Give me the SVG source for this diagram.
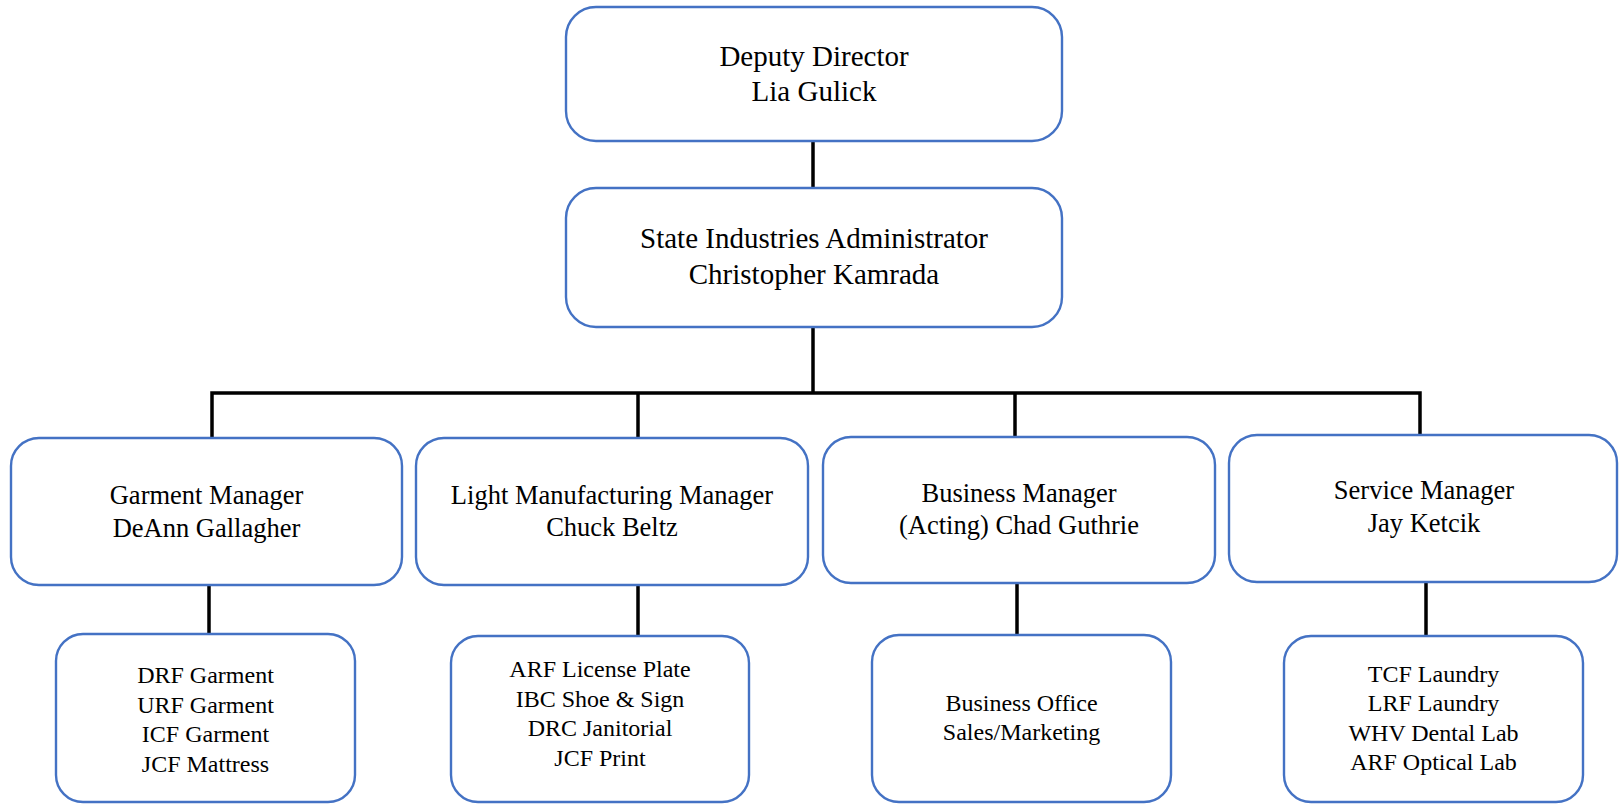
<svg xmlns="http://www.w3.org/2000/svg" width="1619" height="804" viewBox="0 0 1619 804">
<style>
.box{fill:#fff;stroke:#4472C4;stroke-width:2.4}
text{font-family:'Liberation Serif','Times New Roman','DejaVu Serif',serif;fill:#000;text-anchor:middle}
.t1{font-size:29px}
.t2{font-size:26.5px}
.t3{font-size:24px}
.c{stroke:#000;stroke-width:3.5;fill:none}
</style>
<rect width="1619" height="804" fill="#fff"/>
<g id="connectors">
<line class="c" x1="813" y1="141" x2="813" y2="188"/>
<line class="c" x1="813" y1="327" x2="813" y2="393"/>
<polyline class="c" points="212,438 212,393 1420,393 1420,435"/>
<line class="c" x1="638" y1="393" x2="638" y2="438"/>
<line class="c" x1="1015" y1="393" x2="1015" y2="437"/>
<line class="c" x1="209" y1="585" x2="209" y2="634"/>
<line class="c" x1="638" y1="585" x2="638" y2="636"/>
<line class="c" x1="1017" y1="583" x2="1017" y2="635"/>
<line class="c" x1="1426" y1="582" x2="1426" y2="636"/>
</g>
<g id="deputy">
<rect class="box" x="566" y="7" width="496" height="134" rx="30"/>
<text class="t1" x="814" y="66" font-family="Liberation Serif, serif">Deputy Director</text>
<text class="t1" x="814" y="101" font-family="Liberation Serif, serif">Lia Gulick</text>
</g>
<g id="admin">
<rect class="box" x="566" y="188" width="496" height="139" rx="30"/>
<text class="t1" x="814" y="248">State Industries Administrator</text>
<text class="t1" x="814" y="284">Christopher Kamrada</text>
</g>
<g id="garment">
<rect class="box" x="11" y="438" width="391" height="147" rx="28"/>
<text class="t2" x="206.5" y="504">Garment Manager</text>
<text class="t2" x="206.5" y="537">DeAnn Gallagher</text>
</g>
<g id="light">
<rect class="box" x="416" y="438" width="392" height="147" rx="28"/>
<text class="t2" x="612" y="504">Light Manufacturing Manager</text>
<text class="t2" x="612" y="536">Chuck Beltz</text>
</g>
<g id="business">
<rect class="box" x="823" y="437" width="392" height="146" rx="28"/>
<text class="t2" x="1019" y="502">Business Manager</text>
<text class="t2" x="1019" y="534">(Acting) Chad Guthrie</text>
</g>
<g id="service">
<rect class="box" x="1229" y="435" width="388" height="147" rx="28"/>
<text class="t2" x="1424" y="499">Service Manager</text>
<text class="t2" x="1424" y="532">Jay Ketcik</text>
</g>
<g id="garment-units">
<rect class="box" x="56" y="634" width="299" height="168" rx="27"/>
<text class="t3" x="205.5" y="683">DRF Garment</text>
<text class="t3" x="205.5" y="713">URF Garment</text>
<text class="t3" x="205.5" y="742">ICF Garment</text>
<text class="t3" x="205.5" y="772">JCF Mattress</text>
</g>
<g id="light-units">
<rect class="box" x="451" y="636" width="298" height="166" rx="27"/>
<text class="t3" x="600" y="677">ARF License Plate</text>
<text class="t3" x="600" y="707">IBC Shoe &amp; Sign</text>
<text class="t3" x="600" y="736">DRC Janitorial</text>
<text class="t3" x="600" y="766">JCF Print</text>
</g>
<g id="business-units">
<rect class="box" x="872" y="635" width="299" height="167" rx="27"/>
<text class="t3" x="1021.5" y="711">Business Office</text>
<text class="t3" x="1021.5" y="740">Sales/Marketing</text>
</g>
<g id="service-units">
<rect class="box" x="1284" y="636" width="299" height="166" rx="27"/>
<text class="t3" x="1433.5" y="682">TCF Laundry</text>
<text class="t3" x="1433.5" y="711">LRF Laundry</text>
<text class="t3" x="1433.5" y="741">WHV Dental Lab</text>
<text class="t3" x="1433.5" y="770">ARF Optical Lab</text>
</g>
</svg>
